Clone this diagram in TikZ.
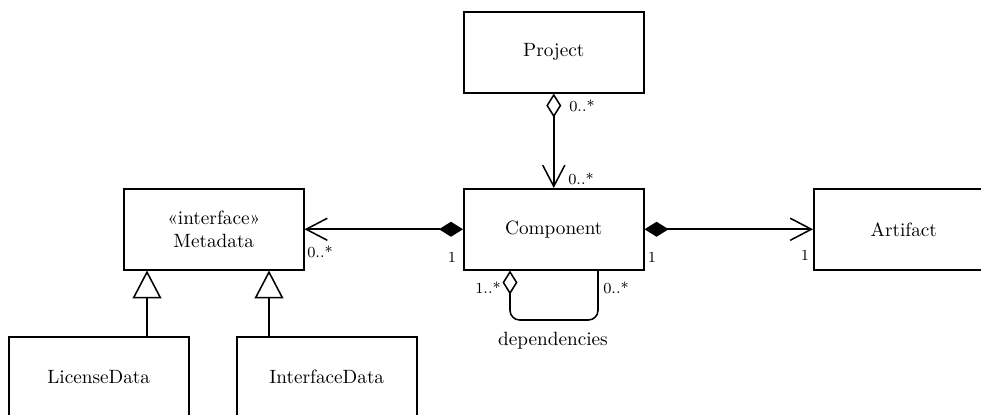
\documentclass[tikz,border=0pt]{standalone}
\usepackage{fontspec}
\usetikzlibrary{arrows.meta}
\begin{document}
\begin{tikzpicture}[x=0.52pt,y=-0.52pt,
  cls/.style={draw, line width=0.8pt, minimum width=93.6pt, minimum height=42.1pt,
    inner sep=0pt, align=center, anchor=north west},
  conn/.style={line width=0.8pt},
  lbl/.style={font=\footnotesize, inner sep=0pt}
  ]
\useasboundingbox (0,0) rectangle (981,414);

\node[cls] (project) at (463,11) {Project};
\node[cls] (component) at (463,188) {Component};
\node[cls] (metadata) at (123,188) {«interface»\\Metadata};
\node[cls] (artifact) at (813,188) {Artifact};
\node[cls] (licdata) at (8,336) {LicenseData};
\node[cls] (ifdata) at (236,336) {InterfaceData};

\coordinate (g1) at (147,0);
\coordinate (g2) at (269,0);
\coordinate (d1) at (510,0);
\coordinate (d2) at (598,0);
\coordinate (lb) at (0,320);

\draw[conn, {Diamond[open,length=12.5pt,width=7.8pt]}-{Straight Barb[length=11pt,width=11.5pt]}]
  (project.south) -- (component.north);
\draw[conn, {Straight Barb[length=11pt,width=11.5pt]}-{Diamond[length=12.5pt,width=7.8pt]}]
  (metadata.east) -- (component.west);
\draw[conn, {Diamond[length=12.5pt,width=7.8pt]}-{Straight Barb[length=11pt,width=11.5pt]}]
  (component.east) -- (artifact.west);
\draw[conn, -{Triangle[open,length=14.5pt,width=15pt]}]
  (licdata.north -| g1) -- (metadata.south -| g1);
\draw[conn, -{Triangle[open,length=14.5pt,width=15pt]}]
  (ifdata.north -| g2) -- (metadata.south -| g2);
\draw[conn, rounded corners=5pt, {Diamond[open,length=12.5pt,width=7.8pt]}-]
  (component.south -| d1) -- (d1 |- lb) -- (d2 |- lb) -- (component.south -| d2);

\node[lbl] (m1) at (582,106) {0..*};
\node[lbl] (m2) at (581,179) {0..*};
\node[lbl] (m3) at (320,252) {0..*};
\node[lbl] (m4) at (452,257) {1};
\node[lbl] (m5) at (652,257) {1};
\node[lbl] (m6) at (805,255) {1};
\node[lbl] (m7) at (488,288) {1..*};
\node[lbl] (m8) at (616,288) {0..*};
\node (dep) at (553,341) {dependencies};
\end{tikzpicture}
\end{document}
